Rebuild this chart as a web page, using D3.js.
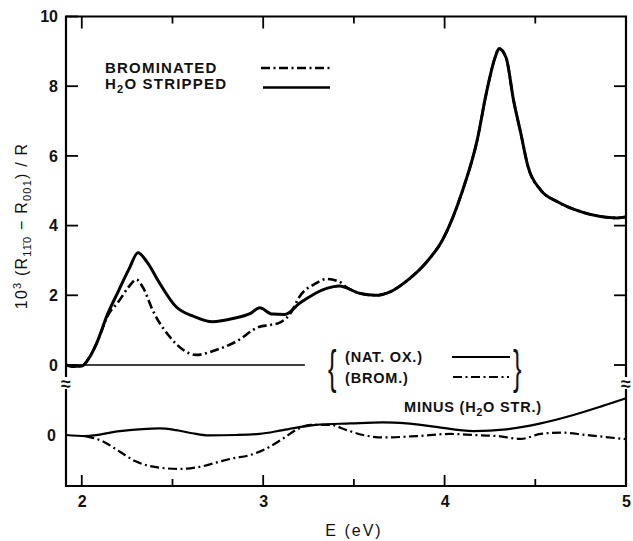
<!DOCTYPE html>
<html lang="en">
  <head>
    <meta charset="UTF-8" />
    <title>Reflectance anisotropy</title>
    <script src="https://d3js.org/d3.v7.min.js"></script>
    <style>
      body { margin: 0; background: #fff; }
      text { font-family: "Liberation Sans", Arial, sans-serif; fill: #111; }
    </style>
  </head>
  <body>
    <svg id="chart" width="633" height="541" viewBox="0 0 633 541"></svg>
    <script>
      // upper panel: H2O stripped (solid) and brominated (dash-dot)
      let strippedE = [1.913, 1.95, 2.0, 2.04, 2.08, 2.14, 2.2, 2.26, 2.31, 2.36, 2.43, 2.52, 2.62, 2.72, 2.84, 2.93, 2.98, 3.05, 3.12, 3.2, 3.35, 3.42, 3.53, 3.62, 3.7, 3.8, 3.9, 3.99, 4.1, 4.18, 4.23, 4.28, 4.3, 4.34, 4.38, 4.42, 4.46, 4.53, 4.62, 4.75, 4.86, 4.95, 5.0];
      let strippedV = [0, -0.04, -0.03, 0.2, 0.6, 1.43, 2.1, 2.75, 3.22, 2.95, 2.34, 1.67, 1.39, 1.24, 1.34, 1.48, 1.64, 1.46, 1.45, 1.77, 2.2, 2.27, 2.06, 2.0, 2.1, 2.45, 2.95, 3.6, 5.02, 6.46, 7.8, 8.85, 9.08, 8.8, 7.6, 6.65, 5.69, 5.02, 4.69, 4.4, 4.26, 4.22, 4.25];

      let bromE = [1.913, 1.95, 2.0, 2.04, 2.08, 2.15, 2.2, 2.26, 2.3, 2.34, 2.39, 2.485, 2.56, 2.63, 2.74, 2.85, 2.98, 3.04, 3.1, 3.15, 3.2, 3.29, 3.35, 3.42, 3.46, 3.53, 3.62, 3.7, 3.8, 3.9, 3.99, 4.1, 4.18, 4.23, 4.28, 4.3, 4.34, 4.38, 4.42, 4.46, 4.53, 4.62, 4.75, 4.86, 4.95, 5.0];
      let bromV = [0, -0.04, -0.03, 0.2, 0.6, 1.48, 1.8, 2.25, 2.45, 2.2, 1.58, 0.81, 0.43, 0.29, 0.43, 0.67, 1.1, 1.15, 1.24, 1.48, 1.96, 2.34, 2.47, 2.39, 2.23, 2.06, 2.0, 2.1, 2.45, 2.95, 3.6, 5.02, 6.46, 7.8, 8.85, 9.08, 8.8, 7.6, 6.65, 5.69, 5.02, 4.69, 4.4, 4.26, 4.22, 4.25];

      // lower panel: differences minus H2O stripped
      let natDiffE = [1.913, 2.02, 2.21, 2.43, 2.52, 2.61, 2.7, 2.85, 2.98, 3.11, 3.29, 3.48, 3.66, 3.79, 3.94, 4.16, 4.34, 4.53, 4.71, 4.86, 5.0];
      let natDiffV = [0, -0.03, 0.11, 0.19, 0.14, 0.05, -0.01, 0, 0.03, 0.14, 0.29, 0.33, 0.36, 0.33, 0.24, 0.11, 0.16, 0.33, 0.57, 0.81, 1.05];

      let bromDiffE = [2.02, 2.12, 2.21, 2.3, 2.41, 2.54, 2.65, 2.76, 2.83, 2.93, 3.02, 3.11, 3.18, 3.26, 3.37, 3.46, 3.55, 3.66, 3.85, 4.03, 4.16, 4.29, 4.42, 4.53, 4.64, 4.78, 5.0];
      let bromDiffV = [-0.03, -0.19, -0.48, -0.76, -0.92, -0.97, -0.91, -0.76, -0.67, -0.57, -0.38, -0.1, 0.14, 0.29, 0.29, 0.14, 0, -0.07, -0.03, 0.03, 0, -0.03, -0.11, 0.03, 0.07, 0, -0.12];

      let upperTicks = [0, 2, 4, 6, 8, 10];
      let lowerTicks = [0];
      let xMajor = [2, 3, 4, 5];
      let xMinor = [2.5, 3.5, 4.5];

      let ink = "#000";
      let svg = d3.select("#chart");

      let x = d3.scaleLinear().domain([1.913, 5]).range([66, 626]);
      let yTop = d3.scaleLinear().domain([0, 10]).range([365, 16.5]);
      let yBot = d3.scaleLinear().domain([0, -1]).range([435, 470]);
      let xMin = 1.913, xMax = 5, yMaxTop = 10, yMinBot = -1.457;

      let zip = (es, vs) => es.map((e, i) => [e, vs[i]]);
      let lineTop = d3.line().x(d => x(d[0])).y(d => yTop(d[1])).curve(d3.curveMonotoneX);
      let lineBot = d3.line().x(d => x(d[0])).y(d => yBot(d[1])).curve(d3.curveMonotoneX);
      let dashDot = "9,3.5,2,3.5";

      let plot = svg.append("g").attr("class", "plot");

      // frame through the scales
      let framePts = [
        [x(xMin), yTop(yMaxTop)], [x(xMax), yTop(yMaxTop)],
        [x(xMax), yBot(yMinBot)], [x(xMin), yBot(yMinBot)]
      ];
      plot.append("path")
        .attr("d", d3.line()(framePts) + "Z")
        .attr("fill", "none").attr("stroke", ink).attr("stroke-width", 2.2);

      // inward tick marks through the scales
      let tickSegs = [];
      upperTicks.forEach(v => tickSegs.push([[x(xMin), yTop(v)], [x(xMin) + 12, yTop(v)]]));
      [0, 2, 4, 6, 8].forEach(v => tickSegs.push([[x(xMax), yTop(v)], [x(xMax) - 12, yTop(v)]]));
      xMajor.forEach(v => tickSegs.push([[x(v), yBot(yMinBot)], [x(v), yBot(yMinBot) - 11]]));
      xMinor.forEach(v => tickSegs.push([[x(v), yBot(yMinBot)], [x(v), yBot(yMinBot) - 7]]));
      [2, 3, 4].forEach(v => tickSegs.push([[x(v), yTop(yMaxTop)], [x(v), yTop(yMaxTop) + 12]]));
      xMinor.forEach(v => tickSegs.push([[x(v), yTop(yMaxTop)], [x(v), yTop(yMaxTop) + 7]]));
      plot.selectAll("path.tick").data(tickSegs).join("path")
        .attr("class", "tick")
        .attr("d", d => d3.line()(d))
        .attr("fill", "none").attr("stroke", ink).attr("stroke-width", 1.8);

      // tick labels
      function tidy(g) {
        g.select(".domain").remove();
        g.selectAll(".tick line").remove();
        g.selectAll(".tick text").attr("font-size", 16).attr("font-weight", "bold").attr("fill", ink);
      }
      svg.append("g").attr("transform", `translate(${x(xMin)},0)`)
        .call(d3.axisLeft(yTop).tickValues(upperTicks).tickSize(0).tickPadding(8))
        .call(tidy);
      svg.append("g").attr("transform", `translate(${x(xMin)},0)`)
        .call(d3.axisLeft(yBot).tickValues(lowerTicks).tickSize(0).tickPadding(10).tickFormat(d3.format("d")))
        .call(tidy);
      svg.append("g").attr("transform", `translate(0,${yBot(yMinBot)})`)
        .call(d3.axisBottom(x).tickValues(xMajor).tickSize(0).tickPadding(10).tickFormat(d3.format("d")))
        .call(tidy);

      // zero reference of upper panel
      plot.append("path")
        .attr("d", d3.line()([[x(xMin), yTop(0)], [x(3.23), yTop(0)]]))
        .attr("fill", "none").attr("stroke", ink).attr("stroke-width", 1.3);

      plot.append("path").attr("d", lineTop(zip(strippedE, strippedV)))
        .attr("fill", "none").attr("stroke", ink).attr("stroke-width", 3);
      plot.append("path").attr("d", lineTop(zip(bromE, bromV)))
        .attr("fill", "none").attr("stroke", ink).attr("stroke-width", 2.6)
        .attr("stroke-dasharray", dashDot);

      plot.append("path").attr("d", lineBot(zip(natDiffE, natDiffV)))
        .attr("fill", "none").attr("stroke", ink).attr("stroke-width", 2.2);
      plot.append("path").attr("d", lineBot(zip(bromDiffE, bromDiffV)))
        .attr("fill", "none").attr("stroke", ink).attr("stroke-width", 2.2)
        .attr("stroke-dasharray", dashDot);

      // axis breaks
      [x(xMin), x(xMax)].forEach(px => {
        svg.append("rect").attr("x", px - 5).attr("y", 377).attr("width", 10).attr("height", 12).attr("fill", "#fff");
        svg.append("text").attr("x", px).attr("y", 390).attr("text-anchor", "middle")
          .attr("font-size", 18).attr("font-weight", "bold").text("\u2248");
      });

      // legend, upper
      let leg = svg.append("g").attr("font-size", 15).attr("font-weight", "bold").attr("letter-spacing", 1.2);
      leg.append("text").attr("x", 105).attr("y", 73).text("BROMINATED");
      let h2o = leg.append("text").attr("x", 105).attr("y", 89);
      h2o.append("tspan").text("H");
      h2o.append("tspan").attr("font-size", 11).attr("dy", 4).text("2");
      h2o.append("tspan").attr("dy", -4).text("O STRIPPED");
      leg.append("line").attr("x1", 261).attr("x2", 330).attr("y1", 68).attr("y2", 68)
        .attr("stroke", ink).attr("stroke-width", 2.4).attr("stroke-dasharray", dashDot);
      leg.append("line").attr("x1", 263).attr("x2", 330).attr("y1", 87.5).attr("y2", 87.5)
        .attr("stroke", ink).attr("stroke-width", 2.6);

      // legend, lower
      let leg2 = svg.append("g").attr("font-size", 14.5).attr("font-weight", "bold").attr("letter-spacing", 0.8);
      leg2.append("text").attr("transform", "translate(328,383) scale(0.55,1)").attr("font-size", 46)
        .attr("font-weight", "normal").attr("letter-spacing", 0).text("{");
      leg2.append("text").attr("transform", "translate(513,383) scale(0.55,1)").attr("font-size", 46)
        .attr("font-weight", "normal").attr("letter-spacing", 0).text("}");
      leg2.append("text").attr("x", 345).attr("y", 362).text("(NAT. OX.)");
      leg2.append("text").attr("x", 345).attr("y", 383).text("(BROM.)");
      leg2.append("line").attr("x1", 452).attr("x2", 510).attr("y1", 357).attr("y2", 357)
        .attr("stroke", ink).attr("stroke-width", 2);
      leg2.append("line").attr("x1", 453).attr("x2", 509).attr("y1", 377).attr("y2", 377)
        .attr("stroke", ink).attr("stroke-width", 2).attr("stroke-dasharray", dashDot);
      let minus = leg2.append("text").attr("x", 404).attr("y", 412);
      minus.append("tspan").text("MINUS (H");
      minus.append("tspan").attr("font-size", 10.5).attr("dy", 4).text("2");
      minus.append("tspan").attr("dy", -4).text("O STR.)");

      // axis titles
      svg.append("text").attr("x", 354).attr("y", 536).attr("text-anchor", "middle")
        .attr("font-size", 16).attr("letter-spacing", 2).text("E (eV)");
      let yl = svg.append("text")
        .attr("transform", "translate(27,226) rotate(-90)")
        .attr("text-anchor", "middle").attr("font-size", 16).attr("letter-spacing", 1.2);
      yl.append("tspan").text("10");
      yl.append("tspan").attr("font-size", 11).attr("dy", -6).text("3");
      yl.append("tspan").attr("dy", 6).text(" (R");
      yl.append("tspan").attr("font-size", 11).attr("dy", 4).text("11\u03040");
      yl.append("tspan").attr("dy", -4).text(" \u2212 R");
      yl.append("tspan").attr("font-size", 11).attr("dy", 4).text("001");
      yl.append("tspan").attr("dy", -4).text(") / R");
    </script>
  </body>
</html>
